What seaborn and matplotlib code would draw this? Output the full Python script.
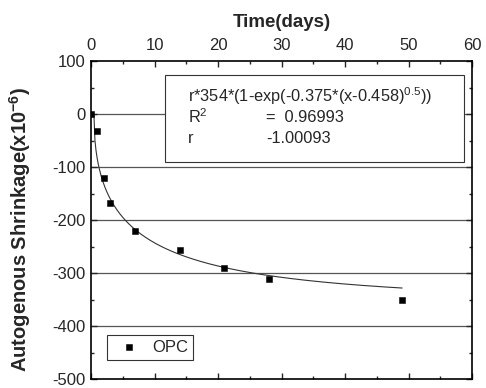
import numpy as np
import pandas as pd
import seaborn as sns
import matplotlib
matplotlib.use("Agg")
import matplotlib.pyplot as plt
from matplotlib.ticker import MultipleLocator
from matplotlib.patches import Rectangle

days = [0, 1, 2, 3, 7, 14, 21, 28, 49]
shrinkage = [0, -32, -120, -167, -220, -256, -290, -311, -351]
series_name = "OPC"

fit_r = -1.00093
fit_a = 354
fit_k = 0.375
fit_x0 = 0.458
fit_p = 0.5
fit_R2 = 0.96993

sns.set_theme(style="white")
plt.rcParams['font.family'] = ['Liberation Sans', 'DejaVu Sans']
plt.rcParams['axes.unicode_minus'] = False
plt.rcParams['mathtext.fontset'] = 'custom'
plt.rcParams['mathtext.rm'] = 'Liberation Sans'
plt.rcParams['mathtext.bf'] = 'Liberation Sans:bold'
plt.rcParams['mathtext.default'] = 'regular'

fig = plt.figure(figsize=(4.86, 3.88), dpi=100)
ax = fig.add_axes([91/486, 1-379/388, (472-91)/486, (379-61)/388])

for yv in [0, -100, -200, -300, -400]:
    ax.axhline(yv, color="#555555", lw=0.9, zorder=0)

xf = np.linspace(fit_x0, days[-1], 300)
yf = fit_r * fit_a * (1 - np.exp(-fit_k * (xf - fit_x0) ** fit_p))
sns.lineplot(x=xf, y=yf, ax=ax, color="#333333", lw=0.8, legend=False)

df = pd.DataFrame({"days": days, "shrink": shrinkage})
sns.scatterplot(data=df, x="days", y="shrink", ax=ax, marker="s", s=22,
                color="black", edgecolor="black", label=series_name, zorder=5)

ax.set_xlim(0, 60)
ax.set_ylim(-500, 100)
ax.xaxis.set_major_locator(MultipleLocator(10))
ax.xaxis.set_minor_locator(MultipleLocator(5))
ax.yaxis.set_major_locator(MultipleLocator(100))
ax.yaxis.set_minor_locator(MultipleLocator(50))
ax.xaxis.tick_top()
ax.xaxis.set_label_position("top")
ax.tick_params(axis="both", which="major", direction="in", length=4, width=1,
               labelsize=12, top=True, bottom=True, left=True, right=True,
               labelbottom=False, labeltop=True)
ax.tick_params(axis="x", which="major", pad=6)
ax.tick_params(axis="y", which="major", pad=4)
ax.tick_params(axis="both", which="minor", direction="in", length=2, width=1,
               top=True, bottom=True, left=True, right=True)
for s in ax.spines.values():
    s.set_color("black")
    s.set_linewidth(1.2)

ax.set_xlabel("Time(days)", fontsize=13.5, fontweight="bold", labelpad=8)
ax.set_ylabel("Autogenous Shrinkage(x10$^{-6}$)", fontsize=14.5, fontweight="bold")
ax.yaxis.set_label_coords(-0.152, 0.47)

leg = ax.legend(loc="lower left", bbox_to_anchor=(0.02, 0.035), fontsize=12,
                frameon=True, fancybox=False, edgecolor="black", handletextpad=0.4,
                borderpad=0.3, markerscale=0.8)
leg.get_frame().set_linewidth(0.8)

box = Rectangle((165/486, 1-162/388), (464-165)/486, (162-75)/388, transform=fig.transFigure,
                facecolor="white", edgecolor="#333333", lw=0.8, zorder=6)
fig.patches.append(box)
fs = 11.8
fig.text(188/486, 1-96/388, "r*%d*(1-exp(-%.3f*(x-%.3f)$^{%.1f}$))" % (fit_a, fit_k, fit_x0, fit_p),
         fontsize=fs, va="center", ha="left", zorder=7)
fig.text(188/486, 1-117/388, "R$^2$", fontsize=fs, va="center", ha="left", zorder=7)
fig.text(266/486, 1-117/388, "=  %.5f" % fit_R2, fontsize=fs, va="center", ha="left", zorder=7)
fig.text(188/486, 1-138/388, "r", fontsize=fs, va="center", ha="left", zorder=7)
fig.text(266/486, 1-138/388, "%.5f" % fit_r, fontsize=fs, va="center", ha="left", zorder=7)

fig.savefig("out.png", dpi=100)
